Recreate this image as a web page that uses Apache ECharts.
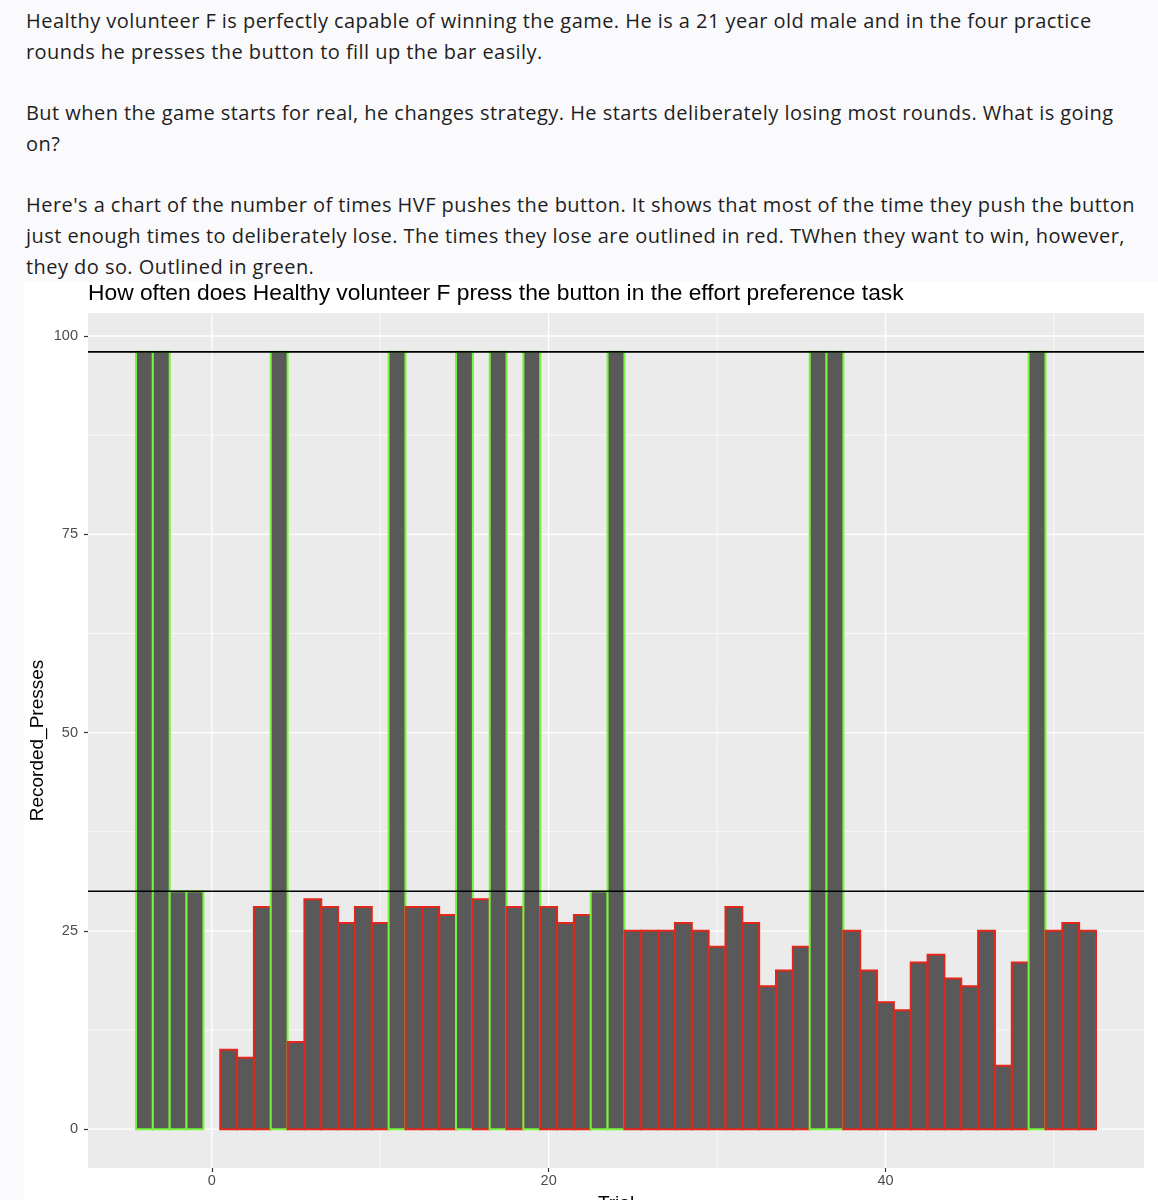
<!DOCTYPE html>
<html>
<head>
<meta charset="utf-8">
<script src="https://cdn.jsdelivr.net/npm/echarts@6/dist/echarts.min.js"></script>
<style>
  html, body { margin: 0; padding: 0; }
  body { width: 1158px; height: 1200px; background: #FAFAFC; position: relative; overflow: hidden; }
  #text { position: absolute; left: 26px; top: 5px; font-family: 'Open Sans', Lato, sans-serif; font-size: 20px; letter-spacing: 0.45px; line-height: 31px; color: #1E1E1E; white-space: nowrap; }
  #text p { margin: 0 0 30px 0; }
  #chart { position: absolute; left: 24px; top: 281px; width: 1134px; height: 919px; background: #FFFFFF; }
</style>
</head>
<body>
<div id="text">
  <p>Healthy volunteer F is perfectly capable of winning the game. He is a 21 year old male and in the four practice<br>rounds he presses the button to fill up the bar easily.</p>
  <p>But when the game starts for real, he changes strategy. He starts deliberately losing most rounds. What is going<br>on?</p>
  <p>Here's a chart of the number of times HVF pushes the button. It shows that most of the time they push the button<br>just enough times to deliberately lose. The times they lose are outlined in red. TWhen they want to win, however,<br>they do so. Outlined in green.</p>
</div>
<div id="chart"></div>
<script>
// ---- data ----
const practiceTrials = [-4, -3, -2, -1];
const practicePresses = [98, 98, 30, 30];
const trials = [1, 2, 3, 4, 5, 6, 7, 8, 9, 10, 11, 12, 13, 14, 15, 16, 17, 18, 19, 20, 21, 22, 23, 24, 25, 26,
  27, 28, 29, 30, 31, 32, 33, 34, 35, 36, 37, 38, 39, 40, 41, 42, 43, 44, 45, 46, 47, 48, 49, 50, 51, 52];
const presses = [10, 9, 28, 98, 11, 29, 28, 26, 28, 26, 98, 28, 28, 27, 98, 29, 98, 28, 98, 28, 26, 27, 30, 98, 25, 25,
  25, 26, 25, 23, 28, 26, 18, 20, 23, 98, 98, 25, 20, 16, 15, 21, 22, 19, 18, 25, 8, 21, 98, 25, 26, 25];
const referenceLines = [30, 98];
const winThreshold = 30;
const xTicks = [0, 20, 40];
const xMinorGrid = [10, 30, 50];
const yTicks = [0, 25, 50, 75, 100];
const yMinorGrid = [12.5, 37.5, 62.5, 87.5];
const chartTitle = 'How often does Healthy volunteer F press the button in the effort preference task';
const xName = 'Trial';
const yName = 'Recorded_Presses';

// ---- build ----
const allTrials = practiceTrials.concat(trials);
const allPresses = practicePresses.concat(presses);
const barData = allTrials.map((t, i) => [t, allPresses[i]]);

// ggplot-like expansion of 5%
const xLo = Math.min(...allTrials) - 0.5, xHi = Math.max(...allTrials) + 0.5;
const xPad = (xHi - xLo) * 0.05;
const yLo = 0, yHi = Math.max(...allPresses);
const yPad = (yHi - yLo) * 0.05;

const GREEN = '#76F53A';
const RED = '#E2261B';
const FILL = '#595959';

function vGrid(width) {
  return function (params, api) {
    const cs = params.coordSys;
    const x = api.coord([api.value(0), 0])[0];
    return { type: 'line', shape: { x1: x, y1: cs.y, x2: x, y2: cs.y + cs.height },
      style: { stroke: '#FFFFFF', lineWidth: width } };
  };
}
function hLine(width, color) {
  return function (params, api) {
    const cs = params.coordSys;
    const y = api.coord([0, api.value(0)])[1];
    return { type: 'line', shape: { x1: cs.x, y1: y, x2: cs.x + cs.width, y2: y },
      style: { stroke: color, lineWidth: width } };
  };
}

const chart = echarts.init(document.getElementById('chart'), null, { renderer: 'canvas' });
chart.setOption({
  animation: false,
  title: {
    text: chartTitle, left: 64, top: 1, padding: 0,
    textStyle: { fontFamily: 'Liberation Sans', fontSize: 22.8, fontWeight: 'normal', color: '#000' }
  },
  grid: {
    left: 64, right: 14, top: 32, bottom: 32,
    show: true, backgroundColor: '#EBEBEB', borderWidth: 0,
    containLabel: false, outerBoundsMode: 'none'
  },
  xAxis: {
    type: 'value', min: xLo - xPad, max: xHi + xPad,
    name: xName, nameLocation: 'middle', nameGap: 26, nameMoveOverlap: false,
    nameTextStyle: { fontFamily: 'Liberation Sans', fontSize: 19, color: '#000' },
    axisLine: { show: false, onZero: false },
    axisTick: { show: true, customValues: xTicks, length: 4, lineStyle: { color: '#333', width: 1.2 } },
    axisLabel: { customValues: xTicks, margin: 5, fontFamily: 'Liberation Sans', fontSize: 14.5, color: '#4D4D4D' },
    splitLine: { show: false }
  },
  yAxis: {
    type: 'value', min: yLo - yPad, max: yHi + yPad,
    name: yName, nameLocation: 'middle', nameGap: 41, nameRotate: 90, nameMoveOverlap: false,
    nameTextStyle: { fontFamily: 'Liberation Sans', fontSize: 19, color: '#000' },
    axisLine: { show: false, onZero: false },
    axisTick: { show: true, customValues: yTicks, length: 4, lineStyle: { color: '#333', width: 1.2 } },
    axisLabel: { customValues: yTicks, margin: 10, fontFamily: 'Liberation Sans', fontSize: 14.5, color: '#4D4D4D' },
    splitLine: { show: false }
  },
  series: [
    { type: 'custom', name: 'yMinor', silent: true, z: 1, data: yMinorGrid.map(v => [v]), encode: { y: 0 }, renderItem: hLine(0.7, '#FFFFFF') },
    { type: 'custom', name: 'yMajor', silent: true, z: 1, data: yTicks.map(v => [v]), encode: { y: 0 }, renderItem: hLine(1.3, '#FFFFFF') },
    { type: 'custom', name: 'xMinor', silent: true, z: 1, data: xMinorGrid.map(v => [v]), encode: { x: 0 }, renderItem: vGrid(0.7) },
    { type: 'custom', name: 'xMajor', silent: true, z: 1, data: xTicks.map(v => [v]), encode: { x: 0 }, renderItem: vGrid(1.3) },
    {
      type: 'custom', name: 'Recorded_Presses', z: 2, data: barData, encode: { x: 0, y: 1 },
      renderItem: function (params, api) {
        const t = api.value(0), v = api.value(1);
        const p0 = api.coord([t - 0.5, v]);
        const p1 = api.coord([t + 0.5, 0]);
        return { type: 'rect',
          shape: { x: p0[0], y: p0[1], width: p1[0] - p0[0], height: p1[1] - p0[1] },
          style: { fill: FILL, stroke: v >= winThreshold ? GREEN : RED, lineWidth: 2 } };
      }
    },
    { type: 'custom', name: 'refLines', silent: true, z: 3, data: referenceLines.map(v => [v]), encode: { y: 0 }, renderItem: hLine(1.6, '#000000') }
  ]
});
</script>
</body>
</html>
